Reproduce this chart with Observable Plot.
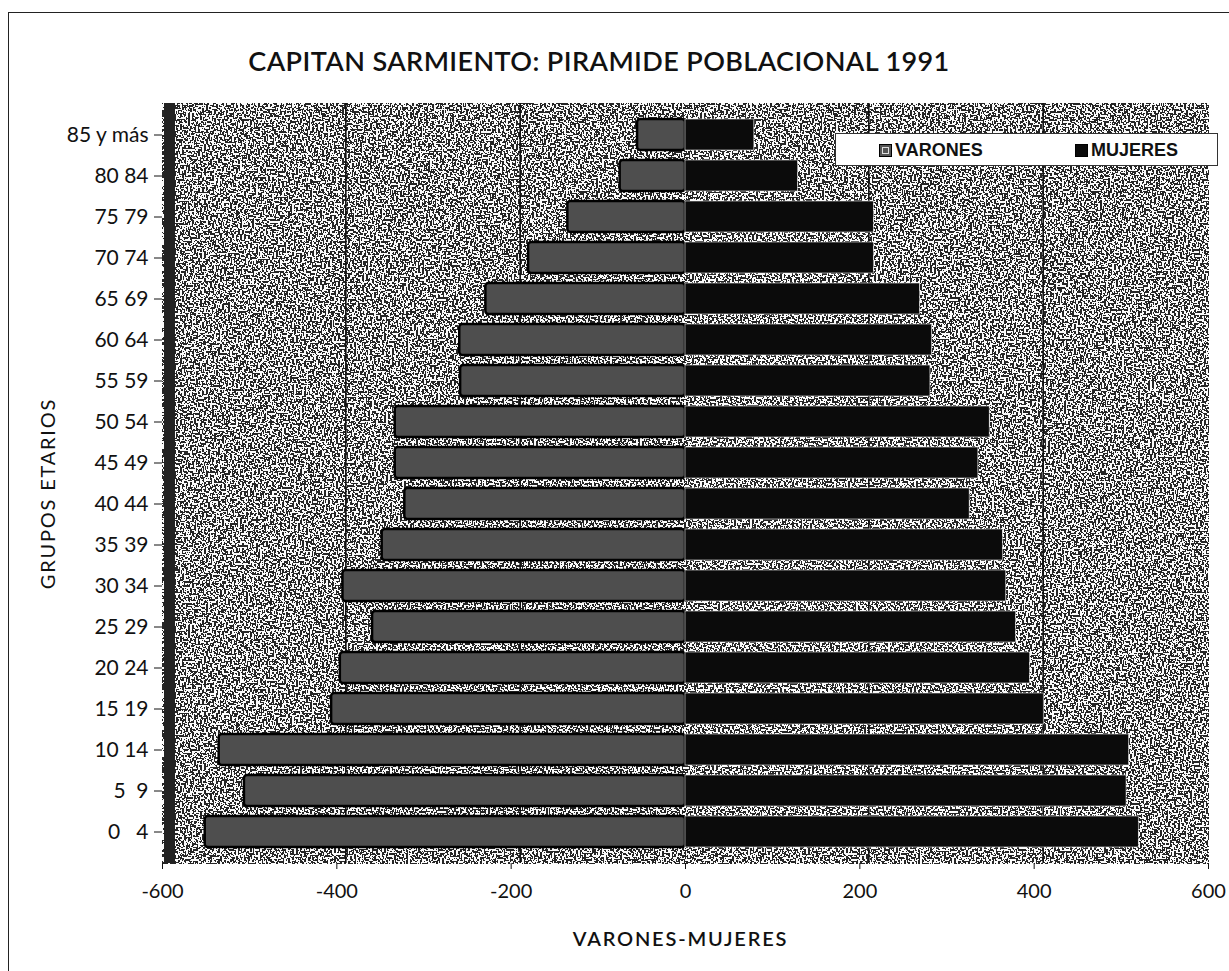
<!DOCTYPE html>
<html>
<head>
<meta charset="utf-8">
<script src="https://cdn.jsdelivr.net/npm/d3@7"></script>
<script src="https://cdn.jsdelivr.net/npm/@observablehq/plot@0.6"></script>
<style>
  html, body { margin: 0; padding: 0; background: #fff; }
  #wrap { position: relative; width: 1229px; height: 971px; overflow: hidden; font-family: Lato, "DejaVu Sans", sans-serif; }
  #border { position: absolute; left: 8px; top: 12px; width: 1230px; height: 970px; border-left: 1.5px solid #222; border-top: 1.5px solid #222; }
  #title { position: absolute; left: 0; top: 44px; width: 1198px; text-align: center; font-size: 27px; font-weight: 600; color: #111; letter-spacing: 0.4px; }
  #chart { position: absolute; left: 0; top: 95px; }
  #legend { position: absolute; left: 835px; top: 133px; width: 381px; height: 31px; background: #fff; border: 1px solid #333; font-family: "Liberation Sans", Arial, sans-serif; font-size: 18px; font-weight: bold; color: #111; }
  .item { position: absolute; top: 6px; display: flex; align-items: center; }
  .sw { width: 13px; height: 13px; margin-right: 3px; display: inline-block; box-sizing: border-box; }
</style>
</head>
<body>
<div id="wrap">
  <div id="border"></div>
  <div id="title">CAPITAN SARMIENTO: PIRAMIDE POBLACIONAL 1991</div>
  <div id="chart"></div>
  <div id="legend"></div>
</div>
<script>
// Age groups, top to bottom
const grupos = ["85 y más", "80 84", "75 79", "70 74", "65 69", "60 64", "55 59", "50 54", "45 49",
                "40 44", "35 39", "30 34", "25 29", "20 24", "15 19", "10 14", "5\u00a0\u00a09", "0\u00a0\u00a0\u00a04"];
// Values
const varones = [55, 75, 135, 180, 229, 259, 258, 333, 333, 322, 348, 393, 359, 396, 406, 535, 506, 551];
const mujeres = [79, 129, 216, 216, 269, 283, 281, 349, 336, 326, 364, 368, 379, 395, 411, 509, 506, 520];
const xTicks = [-600, -400, -200, 0, 200, 400, 600];
const gridTicks = [-400, -200, 200, 400];
const series = ["VARONES", "MUJERES"];
const xLabel = "VARONES-MUJERES";
const yLabel = "GRUPOS ETARIOS";

const rows = grupos.map((g, i) => ({grupo: g, varones: varones[i], mujeres: mujeres[i]}));

const plot = Plot.plot({
  width: 1229,
  height: 876,
  marginLeft: 162,
  marginRight: 21,
  marginTop: 8,
  marginBottom: 108,
  style: {fontFamily: "Lato, 'DejaVu Sans', sans-serif", fontSize: "20px", color: "#111", background: "transparent"},
  x: {domain: [-600, 600]},
  y: {domain: grupos, padding: 0.24},
  marks: [
    Plot.frame({fill: "#999", stroke: "#111", strokeWidth: 1.5}),
    Plot.ruleX(gridTicks, {stroke: "#111", strokeWidth: 1.6, dx: 9}),
    Plot.ruleX([xTicks[0]], {stroke: "#222", strokeWidth: 11, dx: 7}),
    Plot.barX(rows, {y: "grupo", x1: d => -d.varones, x2: 0, fill: "#4e4e4e", stroke: "#000", strokeWidth: 2.5, rx: 3}),
    Plot.barX(rows, {y: "grupo", x1: 0, x2: "mujeres", fill: "#0b0b0b", stroke: "#eee", strokeWidth: 0.6}),
    Plot.axisX({ticks: xTicks, tickFormat: d => String(d), tickSize: 6, fontSize: 20, tickPadding: 14, label: null}),
    Plot.axisY({tickSize: 8, fontSize: 21, tickPadding: 6, label: null}),
    Plot.text([xLabel], {frameAnchor: "bottom", dx: -5, dy: 76, fontSize: 20, fontWeight: 600, text: d => d, lineAnchor: "middle"}),
    Plot.text([yLabel], {frameAnchor: "left", dx: -114, dy: 10, rotate: -90, textAnchor: "middle", lineAnchor: "middle", fontSize: 20, text: d => d})
  ]
});
document.getElementById("chart").appendChild(plot);

const svg = d3.select(plot);
svg.selectAll('g[aria-label="text"] text').style("letter-spacing", "1.8px");

// speckled scan-like texture on the plot background
const defs = svg.insert("defs", ":first-child");
const f = defs.append("filter").attr("id", "noiseBg")
  .attr("x", 0).attr("y", 0).attr("width", 1).attr("height", 1);
f.append("feTurbulence").attr("type", "fractalNoise").attr("baseFrequency", 0.5).attr("numOctaves", 1).attr("seed", 3).attr("result", "n");
f.append("feColorMatrix").attr("type", "matrix").attr("values", "1 0 0 0 0  1 0 0 0 0  1 0 0 0 0  0 0 0 0 1").attr("result", "g");
const ct = f.append("feComponentTransfer");
["feFuncR", "feFuncG", "feFuncB"].forEach(t => ct.append(t).attr("type", "discrete").attr("tableValues", "0.02 0.97"));
svg.selectAll('rect[aria-label="frame"], g[aria-label="frame"] rect, path[aria-label="frame"]').attr("filter", "url(#noiseBg)");

// legend
const leg = document.getElementById("legend");
const pos = [
  {x: 43, sw: "background:#555;border:1px solid #000;box-shadow: inset 0 0 0 2px #555, inset 0 0 0 3px #ddd;"},
  {x: 239, sw: "background:#0b0b0b;border:1px solid #000;"}
];
series.forEach((s, i) => {
  const it = document.createElement("div");
  it.className = "item";
  it.style.left = pos[i].x + "px";
  it.innerHTML = `<span class="sw" style="${pos[i].sw}"></span><span>${s}</span>`;
  leg.appendChild(it);
});
</script>
</body>
</html>
